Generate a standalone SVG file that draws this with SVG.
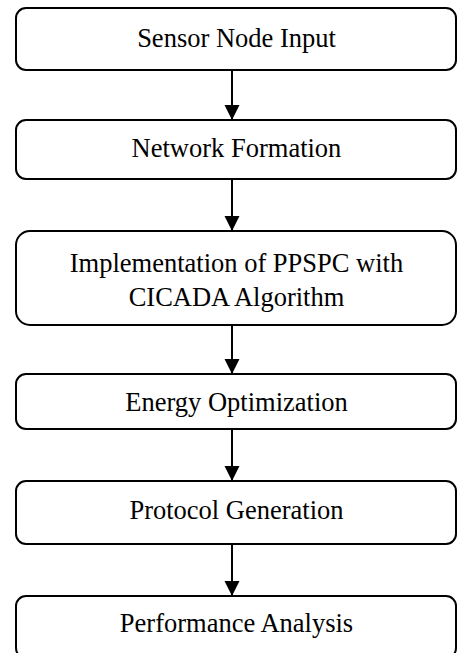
<svg xmlns="http://www.w3.org/2000/svg" width="458" height="653" viewBox="0 0 458 653">
<style>
.box{fill:#fff;stroke:#000;stroke-width:2}
text{font-family:'Liberation Serif','Times New Roman',Times,serif;font-size:26.5px;fill:#000;text-anchor:middle}
.con{stroke:#000;stroke-width:2;fill:none}
</style>
<defs>
<marker id="ah" markerUnits="userSpaceOnUse" markerWidth="16" markerHeight="16" viewBox="0 0 16 16" refX="15" refY="8" orient="auto">
<path d="M0,0.5 L15,8 L0,15.5 Z" fill="#000"/>
</marker>
</defs>
<rect width="458" height="653" fill="#fff"/>
<g id="connectors">
<line class="con" x1="232" y1="70" x2="232" y2="120" marker-end="url(#ah)"/>
<line class="con" x1="232" y1="179" x2="232" y2="231" marker-end="url(#ah)"/>
<line class="con" x1="232" y1="325" x2="232" y2="374" marker-end="url(#ah)"/>
<line class="con" x1="232" y1="429" x2="232" y2="481" marker-end="url(#ah)"/>
<line class="con" x1="232" y1="544" x2="232" y2="596" marker-end="url(#ah)"/>
</g>
<g id="n1"><rect class="box" x="16" y="8" width="440" height="62" rx="10"/><text x="236.5" y="47">Sensor Node Input</text></g>
<g id="n2"><rect class="box" x="16" y="120" width="440" height="59" rx="10"/><text x="236.5" y="157">Network Formation</text></g>
<g id="n3"><rect class="box" x="16" y="231" width="440" height="94" rx="14"/><text x="236.5" y="271.5">Implementation of PPSPC with</text><text x="236.5" y="306">CICADA Algorithm</text></g>
<g id="n4"><rect class="box" x="16" y="374" width="440" height="55" rx="10"/><text x="236.5" y="411">Energy Optimization</text></g>
<g id="n5"><rect class="box" x="16" y="481" width="440" height="63" rx="10"/><text x="236.5" y="519">Protocol Generation</text></g>
<g id="n6"><rect class="box" x="16" y="596" width="440" height="62" rx="10"/><text x="236.5" y="632">Performance Analysis</text></g>
</svg>
